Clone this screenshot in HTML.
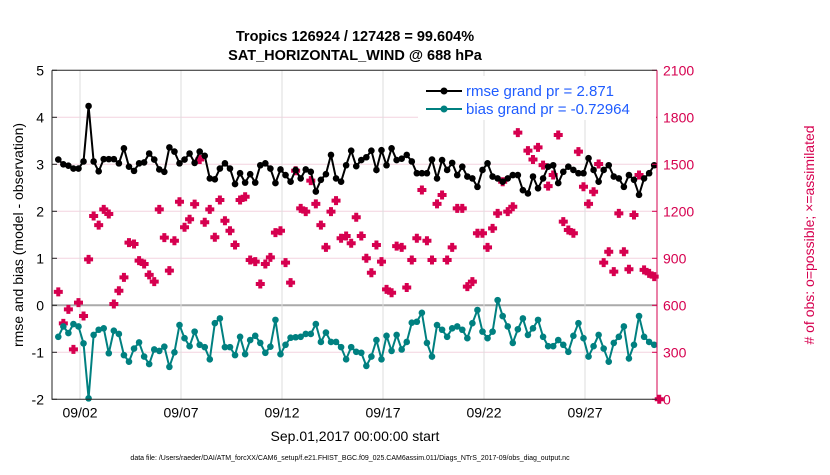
<!DOCTYPE html>
<html><head><meta charset="utf-8"><style>
body{margin:0;background:#fff;}
svg text{font-family:"Liberation Sans",Arial,sans-serif;}
</style></head><body>
<svg id="chart" width="830" height="470" xmlns="http://www.w3.org/2000/svg">
<text x="355" y="41" text-anchor="middle" font-size="14.5" font-weight="bold">Tropics 126924 / 127428 = 99.604%</text>
<text x="355" y="60" text-anchor="middle" font-size="14.5" font-weight="bold">SAT_HORIZONTAL_WIND @ 688 hPa</text>
<g id="grid"></g><g id="series"></g><g id="axes"></g>
<text x="355" y="441" text-anchor="middle" font-size="14">Sep.01,2017 00:00:00 start</text>
<text transform="translate(23,235) rotate(-90)" text-anchor="middle" font-size="14">rmse and bias (model - observation)</text>
<text transform="translate(814,235) rotate(-90)" text-anchor="middle" font-size="14" fill="#d6004f"># of obs: o=possible; ×=assimilated</text>
<text x="350" y="460" text-anchor="middle" font-size="7">data file: /Users/raeder/DAI/ATM_forcXX/CAM6_setup/f.e21.FHIST_BGC.f09_025.CAM6assim.011/Diags_NTrS_2017-09/obs_diag_output.nc</text>
<g>
<rect x="418" y="76" width="238" height="44" fill="#fff"/>
<line x1="426" y1="91" x2="462" y2="91" stroke="#000" stroke-width="2"/><circle cx="444" cy="91" r="3.5" fill="#000"/>
<text x="466" y="96" font-size="15" fill="#1f5cff">rmse grand pr = 2.871</text>
<line x1="426" y1="109" x2="462" y2="109" stroke="#008080" stroke-width="2"/><circle cx="444" cy="109" r="3.5" fill="#008080"/>
<text x="466" y="114" font-size="15" fill="#1f5cff">bias grand pr = -0.72964</text>
</g>
</svg>
<script>
const tickLabelsX = ["09/02","09/07","09/12","09/17","09/22","09/27"];
const tickDaysX = [2,7,12,17,22,27];
const leftTicks = [-2,-1,0,1,2,3,4,5];
const rightTicks = [0,300,600,900,1200,1500,1800,2100];
const rmse = [3.1,3.0,2.97,2.91,2.91,3.06,4.24,3.06,2.85,3.11,3.11,3.11,3.02,3.34,2.95,2.86,3.02,3.04,3.23,3.1,2.89,2.84,3.36,3.27,3.02,3.1,3.23,3.03,3.27,3.18,2.70,2.68,2.91,3.02,2.91,2.58,2.81,2.61,2.79,2.61,
2.98,3.02,2.91,2.60,2.89,2.77,2.63,2.88,2.70,2.89,2.84,2.42,2.67,2.79,3.20,2.70,2.63,2.98,3.29,2.96,3.09,3.15,3.29,2.88,3.30,2.98,3.34,3.09,3.12,3.20,3.06,2.81,2.81,2.81,3.10,2.70,3.09,2.88,3.03,2.77,
2.95,2.74,2.70,2.52,2.88,3.02,2.74,2.70,2.63,2.70,2.77,2.77,2.45,2.38,2.74,2.49,2.70,2.95,2.98,2.60,2.84,2.95,2.88,2.81,2.81,3.13,2.88,2.63,2.88,2.98,2.74,2.70,2.52,2.77,2.67,2.35,2.70,2.81,2.98,null];
const bias = [-0.67,-0.45,-0.59,-0.40,-0.45,-0.81,-1.98,-0.63,-0.52,-0.49,-1.02,-0.54,-0.61,-1.06,-1.20,-0.92,-0.79,-1.09,-1.25,-0.94,-0.97,-0.88,-1.31,-1.00,-0.42,-0.70,-0.87,-0.56,-0.84,-0.89,-1.15,-0.38,-0.28,-0.89,-0.89,-1.06,-0.67,-1.04,-0.74,-0.65,
-0.80,-1.01,-0.88,-0.31,-1.04,-0.84,-0.69,-0.68,-0.67,-0.61,-0.61,-0.40,-0.78,-0.58,-0.78,-0.78,-0.89,-1.15,-0.89,-0.99,-1.01,-1.29,-1.09,-0.74,-1.15,-0.65,-0.97,-0.63,-0.94,-0.78,-0.37,-0.35,-0.16,-0.80,-1.09,-0.42,-0.52,-0.67,-0.49,-0.45,
-0.52,-0.70,-0.38,-0.10,-0.56,-0.70,-0.56,0.11,-0.23,-0.45,-0.80,-0.51,-0.28,-0.63,-0.49,-0.31,-0.67,-0.87,-0.87,-0.74,-0.84,-0.99,-0.65,-0.38,-0.70,-1.09,-0.87,-0.63,-0.92,-1.20,-0.80,-0.67,-0.45,-1.13,-0.84,-0.23,-0.67,-0.78,-0.84,null];
const obsCount = [686,485,574,319,617,532,893,1170,1112,1212,1183,608,693,778,1000,991,885,864,794,751,1212,1032,821,1012,1261,1098,1149,1246,1531,1130,1212,1034,1272,1140,1076,985,1272,1293,889,879,
736,864,906,1064,1076,872,745,1459,1219,1198,1396,1247,1112,970,1198,1268,1028,1042,996,1162,1042,900,808,985,879,702,680,978,970,714,889,1028,1336,1012,889,1247,1304,889,970,1219,
1219,719,751,1060,1060,970,1091,1187,1389,1198,1229,1702,2000,1587,1531,1608,1495,1361,1432,1687,1134,1081,1060,1581,1357,1247,1325,1502,872,942,815,1187,942,830,1176,1432,826,804,783,0];
const startDay = 0.925, stepDay = 0.25;
const L=52,R=657,T=70.3,B=399.3;
const xs = d => 80 + (d-2)*20.2;
const yl = v => B - (v+2)*(B-T)/7;
const yr = v => B - v*(B-T)/2100;
const NS="http://www.w3.org/2000/svg";
function mk(tag, attrs, parent){const e=document.createElementNS(NS,tag);for(const k in attrs)e.setAttribute(k,attrs[k]);parent.appendChild(e);return e;}
const grid=document.getElementById('grid'), ser=document.getElementById('series'), ax=document.getElementById('axes');
leftTicks.forEach(v=>{ if(v>-2&&v<5&&v!==0){const g=mk('line',{x1:L,x2:R,y1:yl(v),y2:yl(v),stroke:'#f3d3df','stroke-width':1},grid);

}
const t=mk('text',{x:L-8,y:yl(v)+5,'text-anchor':'end','font-size':14},ax);t.textContent=v;


mk('line',{x1:L,x2:L+5,y1:yl(v),y2:yl(v),stroke:'#222'},ax);});
const z=mk('line',{x1:L,x2:R,y1:yl(0),y2:yl(0),stroke:'#aaa','stroke-width':2},grid);


tickDaysX.forEach((d,i)=>{const g=mk('line',{x1:xs(d),x2:xs(d),y1:T,y2:B,stroke:'#ddd'},grid);


const t=mk('text',{x:xs(d),y:B+18,'text-anchor':'middle','font-size':14},ax);t.textContent=tickLabelsX[i];

});
rightTicks.forEach(v=>{mk('line',{x1:R-5,x2:R,y1:yr(v),y2:yr(v),stroke:'#d6004f'},ax);
const t=mk('text',{x:R+6,y:yr(v)+5,'font-size':14,fill:'#d6004f'},ax);t.textContent=v;

});
const frame=mk('path',{d:`M${L},${T}H${R}M${L},${T}V${B}H${R}`,fill:'none',stroke:'#222'},ax);


mk('line',{x1:R,x2:R,y1:T,y2:B,stroke:'#d6004f'},ax);
obsCount.forEach((c,i)=>{const x=xs(startDay+i*stepDay),y=yr(c);
const p=mk('path',{d:`M${x-4.5},${y-2}h2.5v-2.5h4v2.5h2.5v4h-2.5v2.5h-4v-2.5h-2.5z`,fill:'#d6004f'},ser);

});
function line(arr,color,name){let d='';arr.forEach((v,i)=>{if(v===null)return;d+=(d?'L':'M')+xs(startDay+i*stepDay)+','+yl(v);});
const p=mk('path',{d,fill:'none',stroke:color,'stroke-width':2},ser);


arr.forEach((v,i)=>{if(v===null)return;const c=mk('circle',{cx:xs(startDay+i*stepDay),cy:yl(v),r:3.3,fill:color},ser);

});}
line(rmse,'#000','rmse');
line(bias,'#008080','bias');
</script>
</body></html>
